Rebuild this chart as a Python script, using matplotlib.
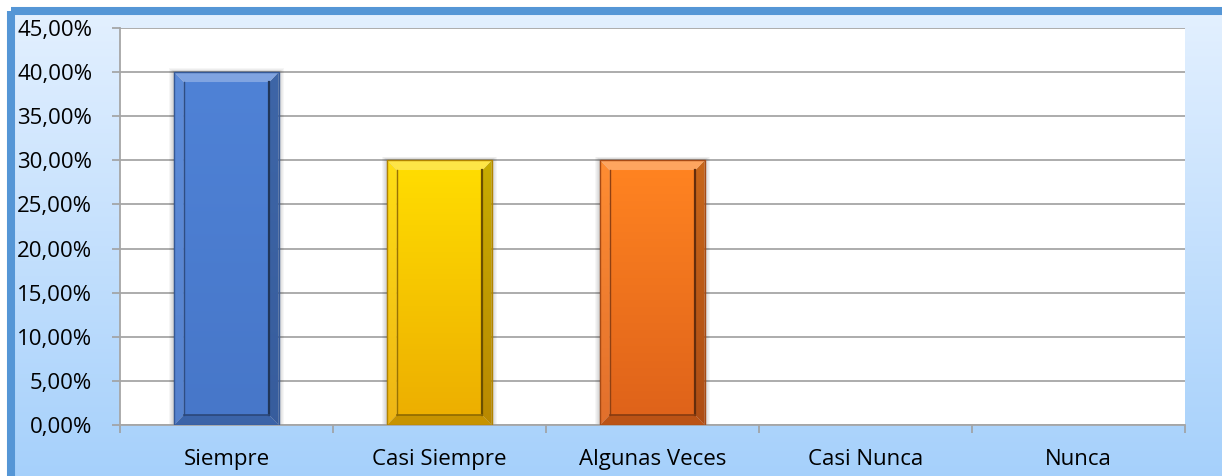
import numpy as np
import matplotlib
matplotlib.use("Agg")
import matplotlib.pyplot as plt
from matplotlib.patches import Rectangle, Polygon
from matplotlib.colors import to_rgb, LinearSegmentedColormap

categories = ["Siempre", "Casi Siempre", "Algunas Veces", "Casi Nunca", "Nunca"]
values = [40.0, 30.0, 30.0, 0.0, 0.0]
y_ticks = [0, 5, 10, 15, 20, 25, 30, 35, 40, 45]
bar_top_colors = ["#4f82d6", "#ffdc00", "#ff8321", "#4f82d6", "#4f82d6"]
bar_bottom_colors = ["#4777c9", "#edaf00", "#df631a", "#4777c9", "#4777c9"]

plt.rcParams["font.family"] = ["Open Sans", "DejaVu Sans"]

W, H = 1222, 476
fig = plt.figure(figsize=(W / 100, H / 100), dpi=100)
fig.patch.set_facecolor("white")


def mix(c, other, t):
    a = np.array(to_rgb(c))
    b = np.array(to_rgb(other))
    return tuple(a * (1 - t) + b * t)


# background gradient inside the frame
bg = fig.add_axes([0, 0, 1, 1], zorder=-10)
bg.set_axis_off()
grad = np.linspace(0, 1, 256).reshape(-1, 1)
bg_cmap = LinearSegmentedColormap.from_list("bg", ["#e3f0ff", "#a3cffb"])
bg.imshow(grad, aspect="auto", cmap=bg_cmap, extent=[11, W + 20, H + 20, 11])
bg.set_xlim(0, W)
bg.set_ylim(H, 0)
bg.add_patch(Rectangle((0, 0), W, 7, color="white", zorder=2))
bg.add_patch(Rectangle((0, 0), 7, H, color="white", zorder=2))
bg.add_patch(Rectangle((11, 11), W + 40, H + 40, fill=False,
                       edgecolor="#5596d6", lw=5.8, zorder=3))

ax = fig.add_axes([120 / W, 1 - 425 / H, (1185 - 120) / W, (425 - 28) / H])
ax.set_facecolor("white")

x = np.arange(len(categories))
bars = ax.bar(x, values, width=0.49, color="none", edgecolor="none", zorder=3)

ax.set_xlim(-0.5, len(categories) - 0.5)
ax.set_ylim(0, 45)
ax.set_yticks(y_ticks)
ax.set_yticklabels([f"{v:.2f}%".replace(".", ",") for v in y_ticks], fontsize=16)
ax.set_xticks(x)
ax.set_xticklabels(categories, fontsize=16)
ax.set_xticks(np.arange(len(categories) + 1) - 0.5, minor=True)
ax.tick_params(axis="x", which="major", length=0, pad=17)
ax.tick_params(axis="x", which="minor", length=6, color="#a0a0a0", width=1.2)
ax.tick_params(axis="y", length=6, color="#a0a0a0", width=1.2, pad=14)
ax.grid(axis="y", color="#a6a6a6", lw=1.3, zorder=0)
for s in ["top", "right"]:
    ax.spines[s].set_visible(False)
for s in ["left", "bottom"]:
    ax.spines[s].set_color("#a6a6a6")
    ax.spines[s].set_linewidth(1.3)

dx, dy = 0.045, 1.15
for bar, ctop, cbot in zip(bars, bar_top_colors, bar_bottom_colors):
    h = bar.get_height()
    if h <= 0:
        continue
    x0 = bar.get_x()
    w = bar.get_width()
    x1 = x0 + w
    # soft drop shadow
    for k in range(6):
        e = 0.004 * (k + 1)
        ax.add_patch(Rectangle((x0 - e, -0.2), w + 2 * e, h + 0.2 + e * 18,
                               color="black", alpha=0.035, lw=0, zorder=2))
    cmap = LinearSegmentedColormap.from_list("b", [cbot, ctop])
    pieces = [
        ([(x0, 0), (x0, h), (x0 + dx, h - dy), (x0 + dx, dy)], "white", 0.08),
        ([(x1, 0), (x1, h), (x1 - dx, h - dy), (x1 - dx, dy)], "black", 0.22),
        ([(x0, h), (x1, h), (x1 - dx, h - dy), (x0 + dx, h - dy)], "white", 0.28),
        ([(x0, 0), (x1, 0), (x1 - dx, dy), (x0 + dx, dy)], "black", 0.16),
    ]
    for pts, tint, t in pieces:
        c2 = LinearSegmentedColormap.from_list(
            "p", [mix(cbot, tint, t), mix(ctop, tint, t)])
        im = ax.imshow(np.linspace(0, 1, 128).reshape(-1, 1), cmap=c2,
                       aspect="auto", origin="lower",
                       extent=[x0, x1, 0, h], zorder=3)
        poly = Polygon(pts, closed=True, facecolor="none", edgecolor="none")
        ax.add_patch(poly)
        im.set_clip_path(poly)
    ax.imshow(np.linspace(0, 1, 128).reshape(-1, 1), cmap=cmap,
              aspect="auto", origin="lower",
              extent=[x0 + dx, x1 - dx, dy, h - dy], zorder=4)
    ax.plot([x1 - dx, x1 - dx], [dy, h - dy], color=mix(cbot, "black", 0.55),
            lw=1.6, zorder=5)
    ax.plot([x0 + dx, x0 + dx], [dy, h - dy], color=mix(cbot, "black", 0.35),
            lw=1.0, zorder=5)
    ax.plot([x0 + dx, x1 - dx], [dy, dy], color=mix(cbot, "black", 0.4),
            lw=1.2, zorder=5)
    ax.add_patch(Rectangle((x0, 0), w, h, fill=False,
                           edgecolor=mix(cbot, "black", 0.25), lw=1.0, zorder=6))

ax.set_xlim(-0.5, len(categories) - 0.5)
ax.set_ylim(0, 45)

fig.savefig("out.png", dpi=100)
